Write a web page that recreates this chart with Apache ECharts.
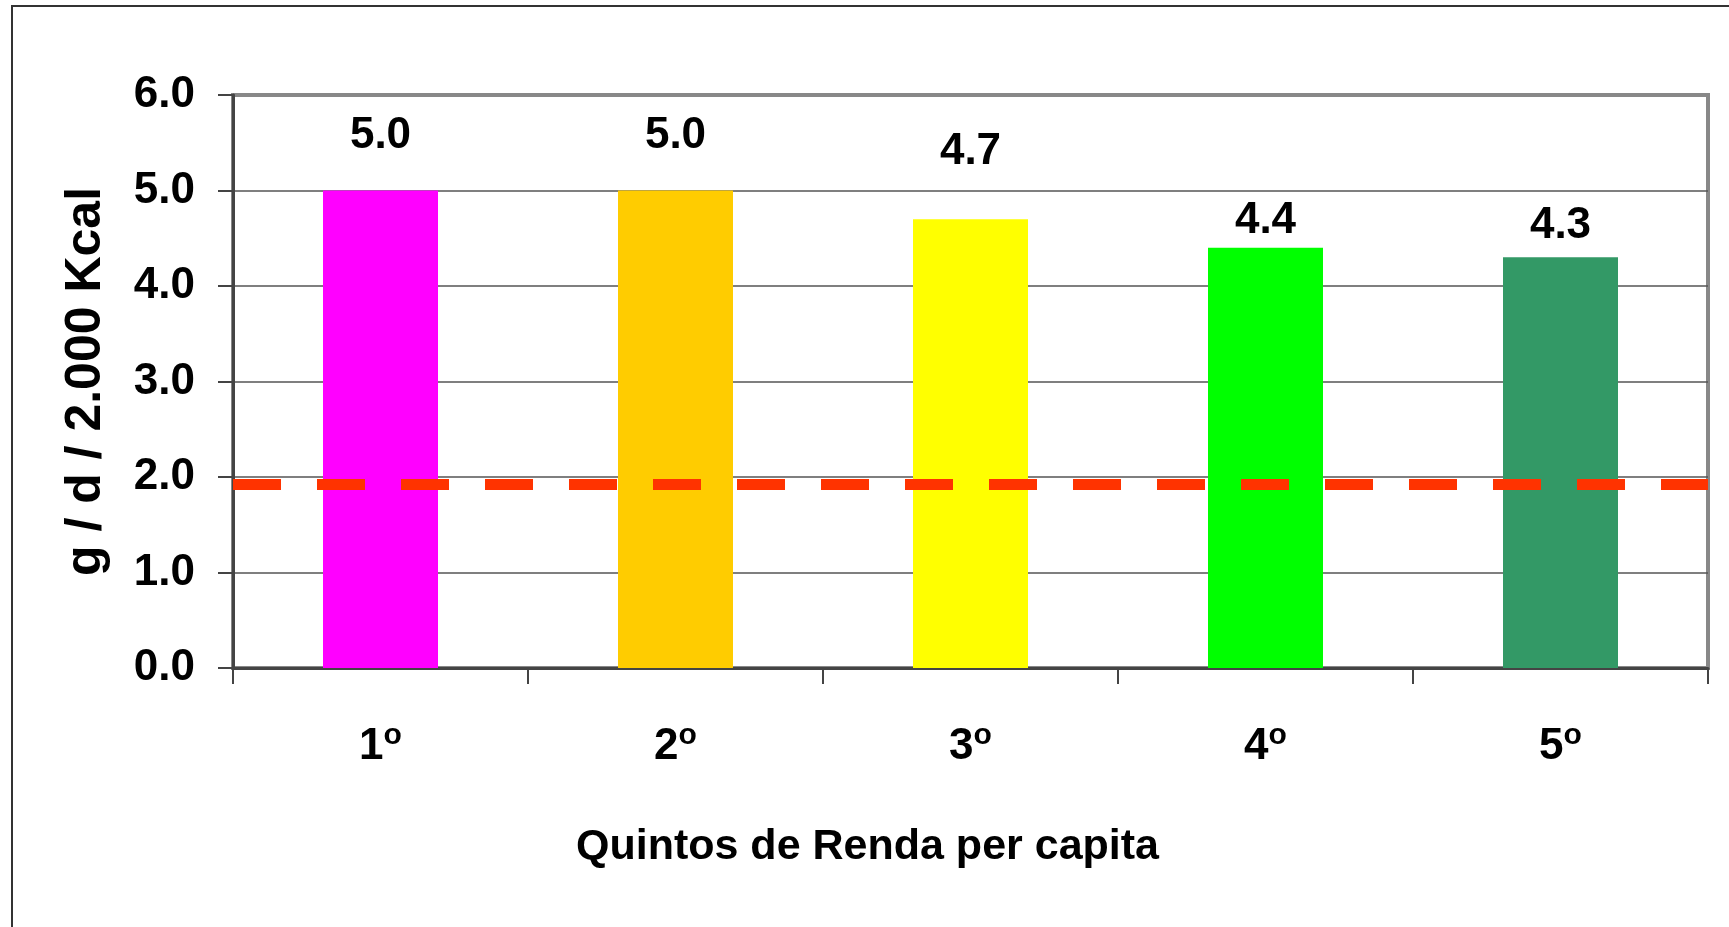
<!DOCTYPE html>
<html>
<head>
<meta charset="utf-8">
<style>
  html, body { margin: 0; padding: 0; background: #fff; }
  #chart { width: 1729px; height: 927px; }
</style>
<script src="https://cdn.jsdelivr.net/npm/echarts@6/dist/echarts.min.js"></script>
</head>
<body>
<div id="chart"></div>
<script>
// Sodium availability by income quintile (g per day per 2,000 kcal)
const quintiles = ['1º', '2º', '3º', '4º', '5º'];
const sodium = [5.0, 5.0, 4.7, 4.4, 4.3];
const barColors = ['#FF00FF', '#FFCC00', '#FFFF00', '#00FF00', '#339966'];
const recommended = 1.92;
const yTicks = { min: 0, max: 6, interval: 1 };

const font = '"Liberation Sans", Arial, sans-serif';

// extra lift for individual value labels
const labelLift = [28, 28, 40, 0, 4];

const chart = echarts.init(document.getElementById('chart'), null, { renderer: 'canvas' });

chart.setOption({
  animation: false,
  backgroundColor: '#fff',
  graphic: [{
    type: 'rect',
    shape: { x: 12, y: 6, width: 1800, height: 1000 },
    style: { fill: 'none', stroke: '#333', lineWidth: 2 },
    silent: true
  }],
  grid: {
    left: 233, right: 21, top: 95, bottom: 259,
    show: true, borderColor: '#888', borderWidth: 4, backgroundColor: 'transparent'
  },
  xAxis: {
    type: 'category',
    data: quintiles,
    name: 'Quintos de Renda per capita',
    nameLocation: 'middle',
    nameGap: 158,
    nameTextStyle: {
      fontFamily: font, fontWeight: 'bold', fontSize: 43, color: '#000',
      padding: [0, 206, 0, 0]
    },
    axisLine: { show: true, lineStyle: { color: '#444', width: 3 } },
    axisTick: { show: true, alignWithLabel: false, length: 16, lineStyle: { color: '#444', width: 2 } },
    axisLabel: {
      margin: 56,
      formatter: v => '{n|' + v.replace('º', '') + '}{s|o}',
      rich: {
        n: { fontFamily: font, fontWeight: 'bold', fontSize: 44, color: '#000', lineHeight: 46 },
        s: { fontFamily: font, fontWeight: 'bold', fontSize: 30, color: '#000', lineHeight: 30, padding: [0, 0, 22, 0] }
      }
    }
  },
  yAxis: {
    type: 'value',
    min: yTicks.min, max: yTicks.max, interval: yTicks.interval,
    name: 'g / d / 2.000 Kcal',
    nameLocation: 'middle',
    nameRotate: 90,
    nameGap: 122,
    nameTextStyle: { fontFamily: font, fontWeight: 'bold', fontSize: 50, color: '#000' },
    axisLine: { show: true, lineStyle: { color: '#444', width: 3 } },
    axisTick: { show: true, length: 15, lineStyle: { color: '#444', width: 2 } },
    axisLabel: {
      margin: 38,
      formatter: v => v.toFixed(1),
      fontFamily: font, fontWeight: 'bold', fontSize: 44, color: '#000'
    },
    splitLine: { show: true, showMinLine: false, showMaxLine: false, lineStyle: { color: '#555', width: 1.5 } }
  },
  series: [{
    type: 'bar',
    barWidth: 115,
    data: sodium.map((v, i) => ({
      value: v,
      itemStyle: { color: barColors[i] },
      label: { offset: [0, -labelLift[i]] }
    })),
    label: {
      show: true,
      position: 'top',
      distance: 5,
      formatter: p => p.value.toFixed(1),
      fontFamily: font, fontWeight: 'bold', fontSize: 44, color: '#000'
    },
    markLine: {
      silent: true,
      symbol: 'none',
      label: { show: false },
      lineStyle: { color: '#FF3300', width: 11, type: [48, 36], opacity: 1 },
      data: [{ yAxis: recommended }]
    },
    z: 2
  }]
});
</script>
</body>
</html>
